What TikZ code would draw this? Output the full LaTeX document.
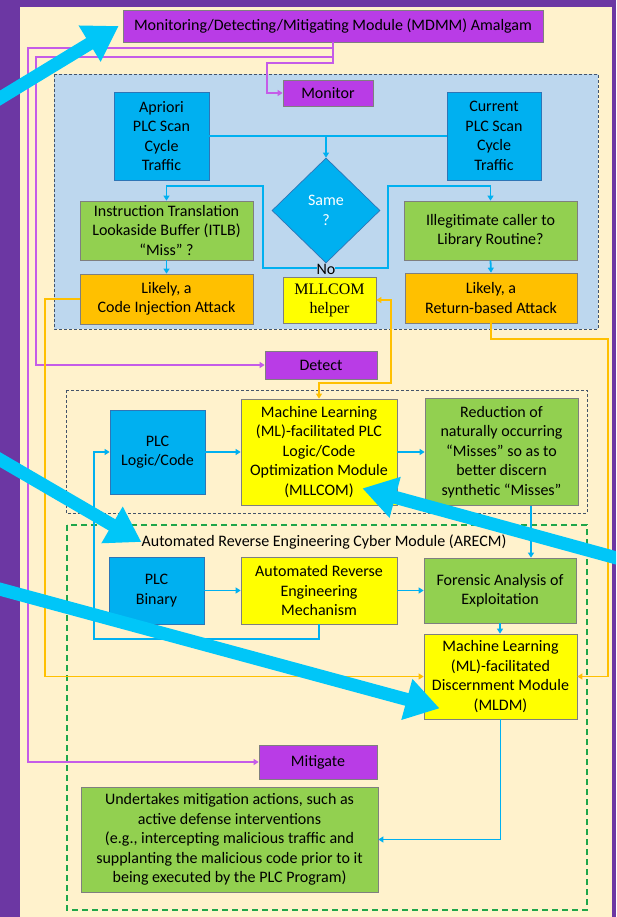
\documentclass[tikz,border=0pt]{standalone}
\usepackage{fontspec}
\setmainfont{Carlito}
\newfontfamily\helperfont{Liberation Serif}
\usetikzlibrary{shapes.geometric, arrows.meta, positioning, calc}

\definecolor{bgpurple}{HTML}{6C37A3}
\definecolor{cream}{HTML}{FFF2CC}
\definecolor{cpanel}{HTML}{BDD7EE}
\definecolor{cdash}{HTML}{44546A}
\definecolor{cgreendash}{HTML}{1FA64A}
\definecolor{cblue}{HTML}{00B0F0}
\definecolor{cblueedge}{HTML}{2E75B6}
\definecolor{cgreen}{HTML}{92D050}
\definecolor{corange}{HTML}{FFC000}
\definecolor{cyellow}{HTML}{FFFF00}
\definecolor{cviolet}{HTML}{B93CE6}
\definecolor{cline}{HTML}{C55CE8}
\definecolor{ccyan}{HTML}{00C6F8}
\definecolor{boxedge}{HTML}{7F7F7F}

\begin{document}
\begin{tikzpicture}[x=1pt, y=-1pt,
  box/.style={rectangle, draw=boxedge, line width=0.7pt, inner sep=0pt, align=center, text=black, font=\fontsize{16}{19.5}\selectfont},
  bluebox/.style={box, fill=cblue, draw=cblueedge},
  greenbox/.style={box, fill=cgreen},
  orangebox/.style={box, fill=corange},
  yellowbox/.style={box, fill=cyellow},
  purplebox/.style={box, fill=cviolet},
  blueline/.style={draw=cblue, line width=1.8pt},
  bluearrow/.style={blueline, -{Triangle[length=5pt, width=6pt]}},
  yellowarrow/.style={draw=corange, line width=1.5pt, -{Triangle[length=5pt, width=6pt]}},
  yellowboth/.style={draw=corange, line width=1.5pt, {Triangle[length=5pt, width=6pt]}-{Triangle[length=5pt, width=6pt]}},
  purplearrow/.style={draw=cline, line width=1.5pt, -{Triangle[length=5pt, width=6pt]}},
  bigarrow/.style={draw=ccyan, line width=13pt, -{Triangle[length=34pt, width=40pt]}},
  panel/.style={draw=cdash, line width=0.9pt, dash pattern=on 3pt off 2pt}
]
  \useasboundingbox (0,0) rectangle (616,917);
  \clip (0,0) rectangle (616,917);
  \fill[bgpurple] (0,0) rectangle (616,917);
  \fill[cream] (20,7) rectangle (612,917);

  % Panels
  \filldraw[panel, fill=cpanel] (54,74) rectangle (598,329);
  \draw[panel] (66,390) rectangle (587,513);
  \draw[cgreendash, line width=1.8pt, dash pattern=on 6pt off 4pt] (67,525) rectangle (587,910);

  % Monitor stage
  \node[purplebox, minimum width=420pt, minimum height=32pt] (mdmm) at (333,26) {Monitoring/Detecting/Mitigating Module (MDMM) Amalgam};
  \node[purplebox, minimum width=90pt, minimum height=26pt] (monitor) at (328,93) {Monitor};
  \node[bluebox, minimum width=95pt, minimum height=88pt] (apriori) at (161.5,136) {Apriori\\PLC Scan\\Cycle\\Traffic};
  \node[bluebox, minimum width=94pt, minimum height=88pt] (current) at (494,136) {Current\\PLC Scan\\Cycle\\Traffic};
  \node[diamond, fill=cblue, draw=cblueedge, line width=0.7pt, inner sep=0pt, minimum width=108pt, minimum height=105pt, align=center, text=white, font=\fontsize{16}{19.5}\selectfont] (same) at (326,210.5) {Same\\?};
  \node[greenbox, minimum width=173pt, minimum height=59pt] (itlb) at (166.5,230.5) {Instruction Translation\\Lookaside Buffer (ITLB)\\“Miss” ?};
  \node[orangebox, minimum width=173pt, minimum height=50pt] (codeinj) at (166.5,299) {Likely, a\\Code Injection Attack};
  \node[greenbox, minimum width=173pt, minimum height=59pt] (illeg) at (490.5,230.5) {Illegitimate caller to\\Library Routine?};
  \node[orangebox, minimum width=172pt, minimum height=50pt] (retatk) at (491,298) {Likely, a\\Return-based Attack};
  \node[yellowbox, minimum width=93pt, minimum height=46pt, font=\helperfont\fontsize{16}{19}\selectfont] (helper) at (329.5,300) {MLLCOM\\helper};

  % Detect stage
  \node[purplebox, minimum width=112pt, minimum height=28pt] (detect) at (321,365) {Detect};
  \node[bluebox, minimum width=95pt, minimum height=84pt] (plclogic) at (157.5,452) {PLC\\Logic/Code};
  \node[yellowbox, minimum width=156pt, minimum height=106pt] (mllcom) at (319,452) {Machine Learning\\(ML)-facilitated PLC\\Logic/Code\\Optimization Module\\(MLLCOM)};
  \node[greenbox, minimum width=153pt, minimum height=107pt] (reduction) at (501.5,452) {Reduction of\\naturally occurring\\“Misses” so as to\\better discern\\synthetic “Misses”};

  % ARECM
  \node[font=\fontsize{16}{19.5}\selectfont, inner sep=0pt] (arecmlabel) at (324,542) {Automated Reverse Engineering Cyber Module (ARECM)};
  \node[bluebox, minimum width=95pt, minimum height=67pt] (plcbin) at (156.5,590.5) {PLC\\Binary};
  \node[yellowbox, minimum width=156pt, minimum height=67pt] (aremech) at (319,590.5) {Automated Reverse\\Engineering\\Mechanism};
  \node[greenbox, minimum width=152pt, minimum height=65pt] (forensic) at (500,590.5) {Forensic Analysis of\\Exploitation};
  \node[yellowbox, minimum width=153pt, minimum height=85pt] (mldm) at (500.5,676.5) {Machine Learning\\(ML)-facilitated\\Discernment Module\\(MLDM)};

  % Mitigate stage
  \node[purplebox, minimum width=118pt, minimum height=34pt] (mitigate) at (318,762) {Mitigate};
  \node[greenbox, minimum width=297pt, minimum height=105pt] (undertakes) at (229.5,839.5) {Undertakes mitigation actions, such as\\active defense interventions\\(e.g., intercepting malicious traffic and\\supplanting the malicious code prior to it\\being executed by the PLC Program)};

  % Purple connectors
  \coordinate (pturn) at (267,63);
  \coordinate (pleft1) at (28,48);
  \coordinate (pleft2) at (36,57);
  \draw[purplearrow] (mdmm.south) |- (pturn) |- (monitor.west);
  \draw[purplearrow] (mdmm.south |- pleft1) -- (pleft1) |- (mitigate.west);
  \draw[purplearrow] (mdmm.south |- pleft2) -- (pleft2) |- (detect.west);

  % Blue connectors
  \draw[blueline] (apriori.east) -- (current.west);
  \draw[bluearrow] (same.north |- apriori.east) -- (same.north);
  \coordinate (nojoin) at (326,268);
  \coordinate (lbend) at (263,186);
  \coordinate (rbend) at (388,186);
  \draw[bluearrow] (nojoin) -| (lbend) -| (itlb.north);
  \draw[bluearrow] (nojoin) -| (rbend) -| (illeg.north);
  \node[font=\fontsize{16}{19.5}\selectfont, inner sep=0pt, fill=cpanel] (nolabel) at (326,269) {No};
  \draw[bluearrow] (itlb.south) -- (codeinj.north);
  \draw[bluearrow] (illeg.south) -- (retatk.north);
  \draw[bluearrow] (plclogic.east) -- (mllcom.west);
  \draw[bluearrow] (mllcom.east) -- (reduction.west);
  \draw[bluearrow] ([xshift=29.5pt]reduction.south) -- ([xshift=31pt]forensic.north);
  \draw[bluearrow] (plcbin.east) -- (aremech.west);
  \draw[bluearrow] (aremech.east) -- (forensic.west);
  \draw[bluearrow] (forensic.south) -- (forensic.south |- mldm.north);
  \coordinate (loopc) at (94,639);
  \draw[bluearrow] (aremech.south) |- (loopc) |- (plclogic.west);
  \draw[bluearrow] (mldm.south) |- (undertakes.east);

  % Yellow connectors
  \coordinate (yleft) at (45,299);
  \coordinate (yright) at (608,339);
  \coordinate (ymid) at (391,383);
  \draw[yellowarrow] (codeinj.west) -- (yleft) |- (mldm.west);
  \draw[yellowarrow] (retatk.south) |- (yright) |- (mldm.east);
  \draw[yellowboth] (helper.east) -| (ymid) -| (mllcom.north);

  % Overlay pointers
  \coordinate (c1) at (-8,103);
  \coordinate (c2) at (-8,455);
  \coordinate (c3) at (-8,587);
  \coordinate (c4) at (624,560);
  \draw[bigarrow] (c1) -- ([xshift=-4pt]mdmm.west);
  \draw[bigarrow] (c2) -- (arecmlabel.west);
  \draw[bigarrow] (c3) -- ([xshift=16pt, yshift=11pt]mldm.south west);
  \draw[bigarrow] (c4) -- ([xshift=-35pt, yshift=17pt]mllcom.south east);
\end{tikzpicture}
\end{document}
